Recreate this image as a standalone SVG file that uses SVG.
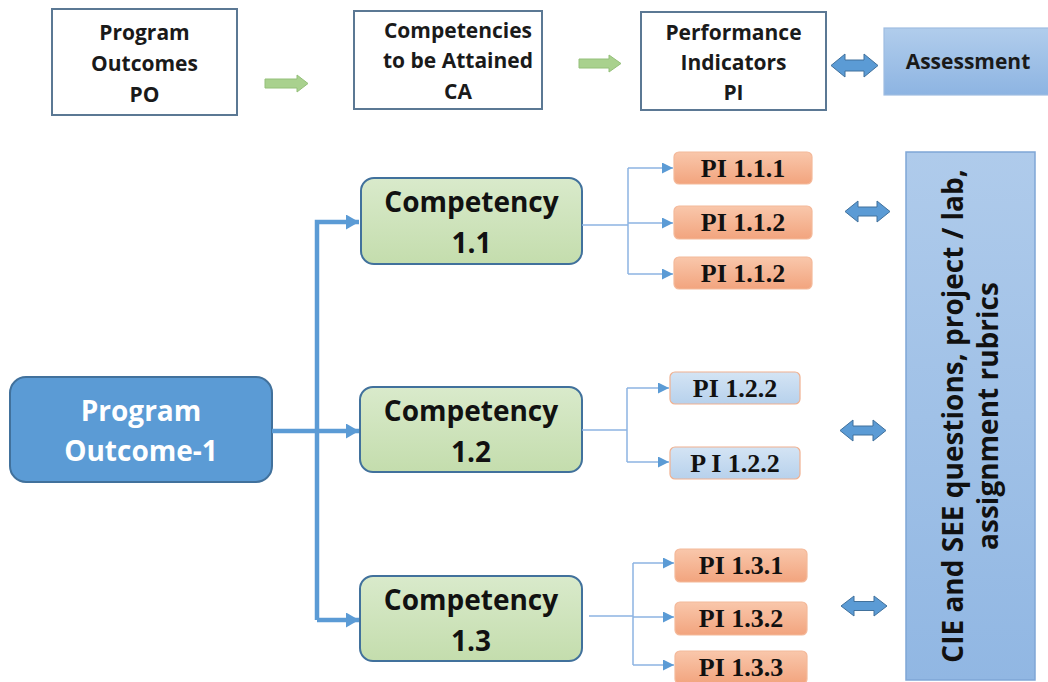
<svg xmlns="http://www.w3.org/2000/svg" width="1048" height="682" viewBox="0 0 1048 682">
  <defs>
    <linearGradient id="gGreen" x1="0" y1="0" x2="0" y2="1">
      <stop offset="0" stop-color="#d9eacb"/>
      <stop offset="1" stop-color="#c4ddad"/>
    </linearGradient>
    <linearGradient id="gOrange" x1="0" y1="0" x2="0" y2="1">
      <stop offset="0" stop-color="#f9c7ab"/>
      <stop offset="1" stop-color="#f2a47e"/>
    </linearGradient>
    <linearGradient id="gLightBlue" x1="0" y1="0" x2="0" y2="1">
      <stop offset="0" stop-color="#d4e4f4"/>
      <stop offset="1" stop-color="#b7d1ec"/>
    </linearGradient>
    <linearGradient id="gBlue" x1="0" y1="0" x2="0" y2="1">
      <stop offset="0" stop-color="#b1cdec"/>
      <stop offset="1" stop-color="#8db4e2"/>
    </linearGradient>
    <linearGradient id="gBlueTall" x1="0" y1="0" x2="0" y2="1">
      <stop offset="0" stop-color="#afcbeb"/>
      <stop offset="1" stop-color="#91b7e3"/>
    </linearGradient>
    <marker id="arrBig" markerUnits="userSpaceOnUse" markerWidth="14" markerHeight="15" refX="13" refY="7.5" orient="auto">
      <path d="M0,0 L13,7.5 L0,15 Z" fill="#5b9bd5"/>
    </marker>
    <marker id="arrSmall" markerUnits="userSpaceOnUse" markerWidth="12" markerHeight="11" refX="11" refY="5.5" orient="auto">
      <path d="M0,0 L11,5.5 L0,11 Z" fill="#5b9bd5"/>
    </marker>
  </defs>
  <style>
    .topbox { fill: #ffffff; stroke: #5b7894; stroke-width: 2; }
    .toptxt { font-family: "Open Sans", "Noto Sans", sans-serif; font-weight: 700; font-size: 21px; fill: #1a1a1a; text-anchor: middle; }
    .comp { fill: url(#gGreen); stroke: #41719c; stroke-width: 2; }
    .comptxt { font-family: "Open Sans", "Noto Sans", sans-serif; font-weight: 700; font-size: 28px; fill: #111111; text-anchor: middle; }
    .po { fill: #5b9bd5; stroke: #41719c; stroke-width: 2; }
    .potxt { font-family: "Open Sans", "Noto Sans", sans-serif; font-weight: 700; font-size: 28px; fill: #ffffff; text-anchor: middle; }
    .pio { fill: url(#gOrange); stroke: #f4b99a; stroke-width: 1.2; }
    .pib { fill: url(#gLightBlue); stroke: #f0b08f; stroke-width: 1.2; }
    .pitxt { font-family: "Liberation Serif", "DejaVu Serif", serif; font-weight: 700; font-size: 26px; fill: #111111; text-anchor: middle; }
    .thick { fill: none; stroke: #5b9bd5; stroke-width: 4.5; }
    .thin { fill: none; stroke: #8db3e2; stroke-width: 1.5; }
    .garrow { fill: #a9d18e; stroke: #95c07a; stroke-width: 1; }
    .barrow { fill: #5b9bd5; stroke: #41719c; stroke-width: 1; }
    .assess { fill: url(#gBlue); stroke: #9fbde2; stroke-width: 1.2; }
    .tall { fill: url(#gBlueTall); stroke: #7fa6d6; stroke-width: 1.5; }
    .rottxt { font-family: "Open Sans", "Noto Sans", sans-serif; font-weight: 700; font-size: 28px; fill: #111111; text-anchor: middle; }
  </style>

  <rect width="1048" height="682" fill="#ffffff"/>

  <!-- Top row -->
  <g id="top-po">
    <rect class="topbox" x="52" y="9" width="185" height="106"/>
    <text class="toptxt" x="144.5" y="40">Program</text>
    <text class="toptxt" x="144.5" y="71">Outcomes</text>
    <text class="toptxt" x="144.5" y="102">PO</text>
  </g>
  <g id="top-ca">
    <rect class="topbox" x="354" y="11" width="188" height="98"/>
    <text class="toptxt" x="458" y="38">Competencies</text>
    <text class="toptxt" x="458" y="68">to be Attained</text>
    <text class="toptxt" x="458" y="99">CA</text>
  </g>
  <g id="top-pi">
    <rect class="topbox" x="641" y="12" width="185" height="98"/>
    <text class="toptxt" x="733.5" y="40">Performance</text>
    <text class="toptxt" x="733.5" y="70">Indicators</text>
    <text class="toptxt" x="733.5" y="100">PI</text>
  </g>
  <g id="top-assessment">
    <rect class="assess" x="884" y="28" width="170" height="67"/>
    <text class="toptxt" x="968" y="69">Assessment</text>
  </g>

  <!-- Main nodes -->
  <g id="po1">
    <rect class="po" x="10" y="377" width="262" height="105" rx="16"/>
    <text class="potxt" x="141" y="421">Program</text>
    <text class="potxt" x="141" y="461">Outcome-1</text>
  </g>
  <g id="comp11">
    <rect class="comp" x="361" y="178" width="221" height="86" rx="13"/>
    <text class="comptxt" x="471.5" y="212">Competency</text>
    <text class="comptxt" x="471.5" y="253">1.1</text>
  </g>
  <g id="comp12">
    <rect class="comp" x="360" y="387" width="222" height="85" rx="13"/>
    <text class="comptxt" x="471" y="421">Competency</text>
    <text class="comptxt" x="471" y="462">1.2</text>
  </g>
  <g id="comp13">
    <rect class="comp" x="360" y="576" width="222" height="85" rx="13"/>
    <text class="comptxt" x="471" y="610">Competency</text>
    <text class="comptxt" x="471" y="651">1.3</text>
  </g>

  <g id="pi111">
    <rect class="pio" x="674" y="152" width="138" height="32" rx="5"/>
    <text class="pitxt" x="743" y="177">PI 1.1.1</text>
  </g>
  <g id="pi112a">
    <rect class="pio" x="674" y="206" width="138" height="33" rx="5"/>
    <text class="pitxt" x="743" y="231">PI 1.1.2</text>
  </g>
  <g id="pi112b">
    <rect class="pio" x="674" y="257" width="138" height="32" rx="5"/>
    <text class="pitxt" x="743" y="282">PI 1.1.2</text>
  </g>
  <g id="pi122a">
    <rect class="pib" x="670" y="372" width="130" height="32" rx="5"/>
    <text class="pitxt" x="735" y="397">PI 1.2.2</text>
  </g>
  <g id="pi122b">
    <rect class="pib" x="670" y="447" width="130" height="32" rx="5"/>
    <text class="pitxt" x="735" y="472">P I 1.2.2</text>
  </g>
  <g id="pi131">
    <rect class="pio" x="675" y="549" width="132" height="33" rx="5"/>
    <text class="pitxt" x="741" y="574">PI 1.3.1</text>
  </g>
  <g id="pi132">
    <rect class="pio" x="675" y="602" width="132" height="33" rx="5"/>
    <text class="pitxt" x="741" y="627">PI 1.3.2</text>
  </g>
  <g id="pi133">
    <rect class="pio" x="675" y="651" width="132" height="33" rx="5"/>
    <text class="pitxt" x="741" y="676">PI 1.3.3</text>
  </g>

  <g id="assessment-tools">
    <rect class="tall" x="906" y="152" width="129" height="528"/>
    <text class="rottxt" transform="translate(963,416) rotate(-90)">CIE and SEE questions, project / lab,</text>
    <text class="rottxt" transform="translate(998,416) rotate(-90)">assignment rubrics</text>
  </g>

  <!-- Connectors -->
  <g id="connectors">
    <polygon class="garrow" points="265,79 297,79 297,75 308,83.5 297,92 297,88 265,88"/>
    <polygon class="garrow" points="579,59 609,59 609,55 621,63.5 609,72 609,68 579,68"/>
    <polygon class="barrow" points="831,65.5 845,54 845,60 864,60 864,54 878,65.5 864,77 864,71 845,71 845,77"/>

    <path class="thick" d="M272,431 H359" marker-end="url(#arrBig)"/>
    <path class="thick" d="M317,620 V222 H359" marker-end="url(#arrBig)"/>
    <path class="thick" d="M317,620 H359" marker-end="url(#arrBig)"/>

    <path class="thin" d="M582,225 H628"/>
    <path class="thin" d="M628,168 V274"/>
    <path class="thin" d="M628,168 H673" marker-end="url(#arrSmall)"/>
    <path class="thin" d="M628,223 H673" marker-end="url(#arrSmall)"/>
    <path class="thin" d="M628,274 H673" marker-end="url(#arrSmall)"/>

    <path class="thin" d="M582,430 H627"/>
    <path class="thin" d="M627,388 V462"/>
    <path class="thin" d="M627,388 H669" marker-end="url(#arrSmall)"/>
    <path class="thin" d="M627,462 H669" marker-end="url(#arrSmall)"/>

    <path class="thin" d="M589,616 H633"/>
    <path class="thin" d="M633,563 V665"/>
    <path class="thin" d="M633,563 H674" marker-end="url(#arrSmall)"/>
    <path class="thin" d="M633,617 H674" marker-end="url(#arrSmall)"/>
    <path class="thin" d="M633,665 H674" marker-end="url(#arrSmall)"/>

    <polygon class="barrow" points="845,211.5 858,201 858,207 877,207 877,201 890,211.5 877,222 877,216 858,216 858,222"/>
    <polygon class="barrow" points="840,430.5 853,420 853,426 873,426 873,420 886,430.5 873,441 873,435 853,435 853,441"/>
    <polygon class="barrow" points="841,606 854,596 854,601.5 874,601.5 874,596 887,606 874,616 874,610.5 854,610.5 854,616"/>
  </g>
</svg>
